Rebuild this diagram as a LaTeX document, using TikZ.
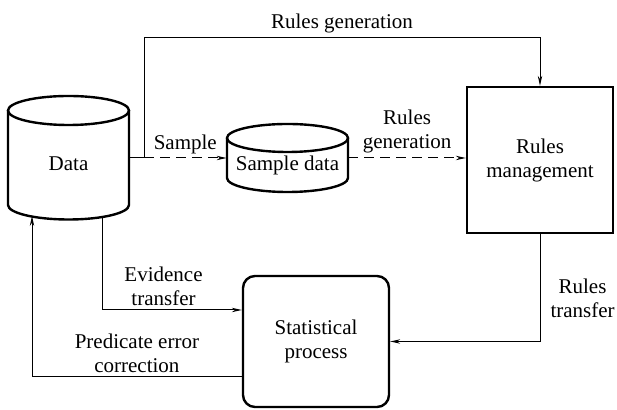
\documentclass[tikz,border=0pt]{standalone}
\usepackage{fontspec}
\setmainfont{Liberation Serif}
\newfontfamily\figfont{Liberation Serif}
\usepackage{tikz}
\usetikzlibrary{arrows.meta,positioning,calc}

\tikzset{
  can/.style={draw, line width=1.2pt},
  % cylinder outline: #1 = body length, #2 = cap y radius
  pics/drum/.style 2 args={code={
    \draw[can] (-60.5,0) -- (-60.5,#1)
      arc[start angle=180, end angle=360, x radius=30.25pt, y radius=#2] -- (60.5,0);
    \draw[can] (0,0) ellipse[x radius=30.25pt, y radius=#2];
  }},
}

\begin{document}
\begin{tikzpicture}[
  x=0.5pt, y=-0.5pt,
  font=\figfont\fontsize{10.5}{12}\selectfont,
  box/.style={draw, line width=1.2pt, align=center, minimum width=73pt,
              minimum height=73pt, inner sep=2pt},
  proc/.style={box, rounded corners=6pt, minimum height=65.5pt},
  hold/.style={align=center, minimum width=60.5pt, inner sep=2pt},
  arr/.style={-{Stealth[length=5pt,width=2.2pt]}, line width=0.5pt},
  darr/.style={arr, dash pattern=on 5pt off 3pt},
  lbl/.style={align=center, inner sep=2pt},
]
\useasboundingbox (0,0) rectangle (617,410);
\pic at (68.5,110.5) {drum={94.5}{7.25pt}};
\pic at (287.5,138) {drum={40}{7pt}};
\node[hold] (data) at (68.5,164) {Data};
\node[hold] (sample) at (287.5,165) {Sample data};
\node[box] (rm) at (540,160) {Rules\\management};
\node[proc] (stat) at (316,341.5) {Statistical\\process};
\coordinate (j1) at (144,158);
\coordinate (top) at (144,38);
\coordinate (evs) at (102,216);
\coordinate (pin) at (32,216);
\draw[line width=0.5pt] (data.east |- j1) -- (j1);
\draw[arr] (j1) -- (top) -| node[lbl, pos=0.25, above] {Rules generation} (rm.north);
\draw[darr] (j1) -- node[lbl, above] {Sample} (j1 -| sample.west);
\draw[darr] (j1 -| sample.east) -- node[lbl, above] {Rules\\generation} (j1 -| rm.west);
\draw[arr] (rm.south) |- node[lbl, pos=0.3, right=3pt] {Rules\\transfer} (stat.east);
\draw[arr] (evs) |- node[lbl, pos=0.72, above] {Evidence\\transfer} ([yshift=15.75pt]stat.west);
\draw[arr] ([yshift=-17.75pt]stat.west) -| node[lbl, pos=0.25, above] {Predicate error\\correction} (pin);
\end{tikzpicture}
\end{document}
